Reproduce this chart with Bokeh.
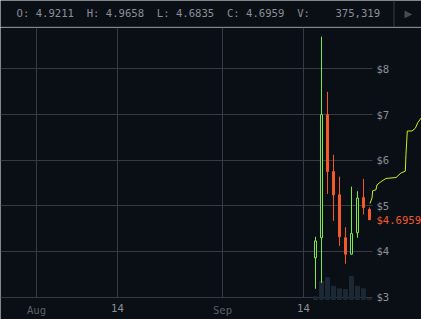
from bokeh.plotting import figure
from bokeh.models import (Range1d, LinearAxis, FixedTicker, NumeralTickFormatter,
                          Grid, Label, Span, ColumnDataSource)
from bokeh.layouts import column
from bokeh.embed import file_html
from bokeh.resources import INLINE

# ---- data (x = days counted from 1 Aug) ----
days = [46, 47, 48, 49, 50, 51, 52, 53, 54, 55]
opens = [3.86, 4.30, 7.00, 5.75, 5.24, 4.30, 3.94, 4.41, 5.18, 4.9211]
highs = [4.32, 8.71, 7.50, 6.12, 5.64, 4.53, 5.42, 5.32, 5.59, 4.9658]
lows = [3.18, 3.31, 5.26, 4.67, 4.12, 3.73, 3.93, 4.30, 4.81, 4.6835]
closes = [4.23, 7.00, 5.75, 5.24, 4.32, 3.94, 4.39, 5.17, 4.96, 4.6959]
volumes = [780000, 5300000, 6270000, 3840000, 3090000, 2890000, 6650000,
           3840000, 3090000, 375319]

line_days = [55.08, 55.42, 55.53, 56.08, 56.25, 56.92, 57.75, 59.42, 60.25,
             60.97, 61.08, 61.30, 62.08, 62.64, 63.03, 63.75]
line_prices = [5.05, 5.17, 5.33, 5.35, 5.46, 5.53, 5.60, 5.62, 5.72,
               5.76, 6.13, 6.64, 6.64, 6.70, 6.82, 6.95]

day_ticks = [13, 44]
day_labels = ["14", "14"]
month_ticks = [-0.5, 30.5]
month_labels = ["Aug", "Sep"]
price_ticks = [3, 4, 5, 6, 7, 8]

# ---- style ----
BG = "#0a0f16"
GRID = "#363b43"
LABEL = "#8a9098"
DIM = "#5a6068"
UP = "#80e84c"
DOWN = "#f45a2a"
LINE = "#c8f01a"
VOL = "#1c2833"
MONO = "DejaVu Sans Mono"
FS = "10.6px"

X0, X1 = -6.5, 63.6667
AXIS_X = 55.5
Y0, Y1 = 2.5066, 8.910
Y_AX = 2.945
V0, V1 = -5.78e6, 78.6e6
BODY_W = 1 / 3
VOL_W = 2 / 3

# ---- header ----
last = len(days) - 1
NB = "\u00a0"
header_text = (f"O:{NB}{opens[last]:.4f}{NB*2}H:{NB}{highs[last]:.4f}{NB*2}"
               f"L:{NB}{lows[last]:.4f}{NB*2}C:{NB}{closes[last]:.4f}{NB*2}"
               f"V:{NB*4}{volumes[last]:,}")

hdr = figure(width=421, height=27, x_range=Range1d(0, 421), y_range=Range1d(0, 27),
             toolbar_location=None, output_backend="svg", min_border=0,
             x_axis_location=None, y_axis_location=None,
             background_fill_color=BG, border_fill_color=BG, outline_line_color=None)
hdr.grid.visible = False
hdr.add_layout(Label(x=16, y=14.5, text=header_text, text_font=MONO,
                     text_font_size=FS, text_color=LABEL, text_baseline="middle"))
hdr.add_layout(Label(x=404, y=14.5, text="\u25b6", text_font="DejaVu Sans",
                     text_font_size="10px", text_color="#454b53", text_baseline="middle"))
hdr.add_layout(Span(location=393.5, dimension="height", line_color=GRID, line_width=1))
hdr.add_layout(Span(location=0.5, dimension="width", line_color=GRID, line_width=1))

# ---- main chart ----
p = figure(width=421, height=292, x_range=Range1d(X0, X1), y_range=Range1d(Y0, Y1),
           toolbar_location=None, output_backend="svg",
           x_axis_location=None, y_axis_location=None, min_border=0,
           background_fill_color=BG, border_fill_color=BG, outline_line_color=None)
p.grid.visible = False
p.extra_y_ranges = {"vol": Range1d(V0, V1)}

xg = Grid(dimension=0, ticker=FixedTicker(ticks=month_ticks + day_ticks),
          grid_line_color=GRID, cross_bounds=(3, Y1))
yg = Grid(dimension=1, ticker=FixedTicker(ticks=price_ticks),
          grid_line_color=GRID, cross_bounds=(X0, AXIS_X))
p.add_layout(xg)
p.add_layout(yg)

up = [c >= o for o, c in zip(opens, closes)]
colors = [UP if u else DOWN for u in up]
src = ColumnDataSource(dict(x=days, o=opens, h=highs, l=lows, c=closes, v=volumes,
                            color=colors,
                            fill=[BG if u else DOWN for u in up],
                            top=[max(o, c) for o, c in zip(opens, closes)],
                            bottom=[min(o, c) for o, c in zip(opens, closes)]))

p.vbar(x="x", top="v", bottom=0, width=VOL_W, color=VOL, y_range_name="vol", source=src)
p.line(line_days, line_prices, line_color=LINE, line_width=1)
p.segment(x0="x", y0="l", x1="x", y1="h", line_color="color", line_width=1, source=src)
p.vbar(x="x", top="top", bottom="bottom", width=BODY_W, fill_color="fill",
       line_color="color", line_width=1, source=src)

def style_axis(ax, color):
    ax.axis_line_color = None
    ax.major_tick_line_color = None
    ax.minor_tick_line_color = None
    ax.major_tick_out = 0
    ax.major_tick_in = 0
    ax.major_label_standoff = 4
    ax.major_label_text_font = MONO
    ax.major_label_text_font_size = FS
    ax.major_label_text_color = color

xa = LinearAxis(ticker=FixedTicker(ticks=day_ticks), fixed_location=Y_AX,
                major_label_overrides=dict(zip(day_ticks, day_labels)))
style_axis(xa, LABEL)
p.add_layout(xa, "below")

xm = LinearAxis(ticker=FixedTicker(ticks=month_ticks), fixed_location=Y_AX,
                major_label_overrides=dict(zip(month_ticks, month_labels)))
style_axis(xm, DIM)
p.add_layout(xm, "below")

ya = LinearAxis(ticker=FixedTicker(ticks=price_ticks), fixed_location=AXIS_X,
                formatter=NumeralTickFormatter(format="$0"))
style_axis(ya, LABEL)
p.add_layout(ya, "right")

yl = LinearAxis(ticker=FixedTicker(ticks=[closes[last]]), fixed_location=AXIS_X,
                formatter=NumeralTickFormatter(format="$0.0000"))
style_axis(yl, DOWN)
p.add_layout(yl, "right")

layout = column(hdr, p, spacing=0)
open("out.html", "w").write(file_html(layout, INLINE))
